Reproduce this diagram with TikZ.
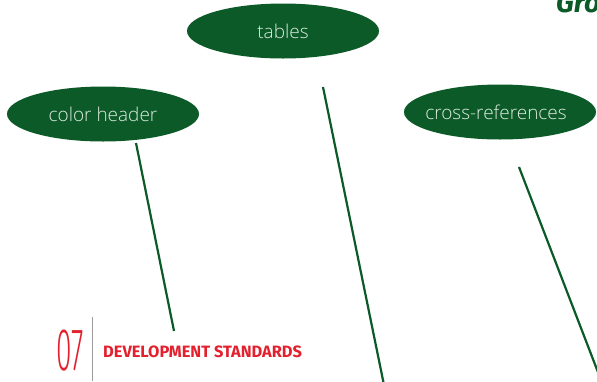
\documentclass[tikz,border=0pt]{standalone}
\usepackage{fontspec}
\setmainfont{Open Sans}
\newfontfamily\labelfont{Open Sans Light}
\newfontfamily\headfont{Fira Sans}
\newfontfamily\thinfont{Fira Sans Light}
\usetikzlibrary{shapes.geometric}
\definecolor{leaf}{HTML}{0B5A28}
\definecolor{pale}{HTML}{DCEBDF}
\definecolor{signal}{HTML}{E3202E}
\definecolor{rule}{HTML}{9A9A9A}
\tikzset{
  bubble/.style={ellipse, fill=leaf, draw=none, minimum width=192pt, minimum height=55pt,
    inner sep=0pt, text=pale, font=\labelfont\fontsize{19}{22}\selectfont},
  link/.style={draw=leaf, line width=2.2pt},
}
% label set in a zero-width box so the ellipse keeps its fixed size
\newcommand{\bubbletext}[1]{\makebox[0pt]{#1}}
\begin{document}
\begin{tikzpicture}[x=1pt,y=-1pt]
  \useasboundingbox (0,0) rectangle (597,381);
  \clip (0,0) rectangle (597,381);
  \fill[white] (0,0) rectangle (597,381);

  % topic bubbles
  \node[bubble] (header) at (103,114) {\bubbletext{color header}};
  \node[bubble] (tables) at (283,31) {\bubbletext{tables}};
  \node[bubble] (xref) at (500,112) {\bubbletext{\hspace*{-8pt}cross-references}};

  % leader lines
  \coordinate (headerA) at (136,143);
  \coordinate (headerB) at (174,331);
  \coordinate (tablesA) at (323,87);
  \coordinate (tablesB) at (384,385);
  \coordinate (xrefA) at (519,167);
  \coordinate (xrefB) at (601,380);
  \draw[link] (headerA) -- (headerB);
  \draw[link] (tablesA) -- (tablesB);
  \draw[link] (xrefA) -- (xrefB);

  % heading fragment at the top edge
  \node[anchor=base west, inner sep=0pt, text=leaf,
    font=\headfont\bfseries\itshape\fontsize{28}{32}\selectfont] (group) at (556,12) {Group};

  % chapter marker
  \node[anchor=base west, inner sep=0pt, text=signal, xscale=0.47,
    font=\thinfont\fontsize{60}{62}\selectfont] (num) at (56,370) {07};
  \coordinate (ruleT) at (92,317);
  \coordinate (ruleB) at (92,381);
  \draw[rule, line width=0.8pt] (ruleT) -- (ruleB);
  \node[anchor=base west, inner sep=0pt, text=signal,
    font=\headfont\bfseries\fontsize{16.4}{18}\selectfont] (title) at (103,357) {DEVELOPMENT STANDARDS};
\end{tikzpicture}
\end{document}
